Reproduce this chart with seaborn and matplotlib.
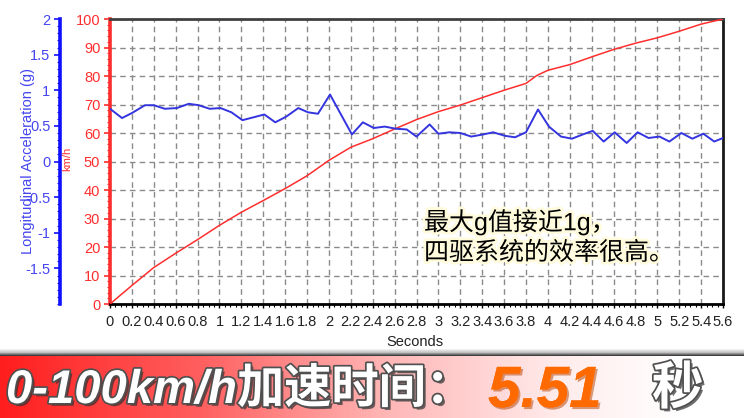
import matplotlib
matplotlib.use("Agg")
import matplotlib.patheffects as pe
import matplotlib.pyplot as plt
import numpy as np
import seaborn as sns
from matplotlib.ticker import FixedLocator, MultipleLocator

# speed trace (km/h)
speed_time = [0, 0.2, 0.4, 0.6, 0.8, 1.0, 1.2, 1.4, 1.6, 1.8, 2.0, 2.2, 2.4, 2.6, 2.8,
              3.0, 3.2, 3.4, 3.6, 3.8, 3.9, 4.0, 4.2, 4.4, 4.6, 4.8, 5.0, 5.2, 5.4, 5.6]
speed_kmh = [0, 6.5, 12.8, 17.8, 22.6, 27.6, 32.2, 36.3, 40.5, 45.0, 50.4, 55.0, 58.0, 61.4, 64.7,
             67.5, 69.8, 72.4, 75.0, 77.4, 80.2, 82.0, 84.0, 86.7, 89.3, 91.5, 93.4, 95.7, 98.2, 100]

# longitudinal acceleration (g)
accel_time = [0, 0.11, 0.2, 0.32, 0.4, 0.5, 0.61, 0.72, 0.81, 0.91,
              1.01, 1.11, 1.21, 1.31, 1.41, 1.51, 1.61, 1.72, 1.81, 1.9,
              2.01, 2.21, 2.31, 2.41, 2.51, 2.61, 2.71, 2.8, 2.92, 3.0,
              3.1, 3.2, 3.3, 3.41, 3.5, 3.61, 3.7, 3.8, 3.91, 4.01,
              4.12, 4.22, 4.32, 4.41, 4.51, 4.61, 4.72, 4.82, 4.92, 5.02,
              5.11, 5.22, 5.32, 5.42, 5.52, 5.6]
accel_g = [0.74, 0.61, 0.68, 0.79, 0.79, 0.74, 0.75, 0.81, 0.79, 0.74,
           0.75, 0.69, 0.58, 0.62, 0.66, 0.55, 0.63, 0.75, 0.69, 0.67,
           0.94, 0.38, 0.55, 0.47, 0.49, 0.46, 0.45, 0.35, 0.52, 0.39,
           0.41, 0.40, 0.35, 0.38, 0.41, 0.36, 0.34, 0.41, 0.73, 0.49,
           0.35, 0.32, 0.38, 0.43, 0.28, 0.41, 0.26, 0.41, 0.33, 0.35,
           0.28, 0.40, 0.32, 0.39, 0.28, 0.33]

x_tick_values = [0, 0.2, 0.4, 0.6, 0.8, 1, 1.2, 1.4, 1.6, 1.8, 2, 2.2, 2.4, 2.6, 2.8,
                 3, 3.2, 3.4, 3.6, 3.8, 4, 4.2, 4.4, 4.6, 4.8, 5, 5.2, 5.4, 5.6]
x_tick_labels = ["0", "0.2", "0.4", "0.6", "0.8", "1", "1.2", "1.4", "1.6", "1.8",
                 "2", "2.2", "2.4", "2.6", "2.8", "3", "3.2", "3.4", "3.6", "3.8",
                 "4", "4.2", "4.4", "4.6", "4.8", "5", "5.2", "5.4", "5.6"]
kmh_tick_values = [0, 10, 20, 30, 40, 50, 60, 70, 80, 90, 100]
g_tick_values = [-1.5, -1, -0.5, 0, 0.5, 1, 1.5, 2]
g_tick_labels = ["-1.5", "-1", "-0.5", "0", "0.5", "1", "1.5", "2"]

RED = "#ff2e2e"
BLUE = "#3434e0"
W, H = 744, 418

sns.set_theme(style="white")
plt.rcParams["font.family"] = ["Liberation Sans", "Noto Sans CJK SC", "DejaVu Sans"]

fig = plt.figure(figsize=(W / 100, H / 100), dpi=100)
fig.patch.set_facecolor("white")

# plot box: x 110..723, y 19..304 (pixels)
ax = fig.add_axes([110 / W, 1 - 304 / H, 613 / W, 285 / H])
ax.set_facecolor("white")
sns.lineplot(x=speed_time, y=speed_kmh, ax=ax, color=RED, linewidth=1.1, zorder=3)
ax.set_xlim(0, 5.6)
ax.set_ylim(0, 100)
ax.xaxis.set_major_locator(FixedLocator(x_tick_values))
ax.set_xticklabels(x_tick_labels)
ax.xaxis.set_minor_locator(MultipleLocator(0.05))
ax.yaxis.set_major_locator(FixedLocator(kmh_tick_values))
ax.yaxis.set_minor_locator(MultipleLocator(2))
ax.grid(True, which="major", color="#8a8a8a", linestyle=(0, (4, 3)), linewidth=1)
ax.set_axisbelow(True)
ax.set_xlabel("")
ax.set_ylabel("")
ax.tick_params(axis="x", which="major", length=3, width=1, color="black", pad=5,
               labelsize=10.5, labelcolor="#222222", bottom=True)
ax.tick_params(axis="x", which="minor", length=2, width=0.8, color="black", bottom=True)
ax.tick_params(axis="y", which="major", length=4, width=1.2, color=RED, pad=3,
               labelsize=10.5, labelcolor=RED, left=True)
ax.tick_params(axis="y", which="minor", length=2, width=0.8, color=RED, left=True)
for side, col, lw in [("left", RED, 2.6), ("bottom", "black", 2), ("top", "#404040", 2),
                      ("right", "#1a1a1a", 2)]:
    ax.spines[side].set_visible(True)
    ax.spines[side].set_color(col)
    ax.spines[side].set_linewidth(lw)

# acceleration axis, spine pushed out to x = 60 px
ax_g = ax.twinx()
sns.lineplot(x=accel_time, y=accel_g, ax=ax_g, color=BLUE, linewidth=1.4, zorder=4)
ax_g.set_ylim(-2, 2)
ax_g.set_ylabel("")
ax_g.yaxis.set_ticks_position("left")
ax_g.spines["left"].set_position(("axes", -50 / 613))
for side in ["right", "top", "bottom"]:
    ax_g.spines[side].set_visible(False)
ax_g.spines["left"].set_visible(True)
ax_g.spines["left"].set_color("#1010ff")
ax_g.spines["left"].set_linewidth(2.6)
ax_g.yaxis.set_major_locator(FixedLocator(g_tick_values))
ax_g.set_yticklabels(g_tick_labels)
ax_g.yaxis.set_minor_locator(MultipleLocator(0.1))
ax_g.tick_params(axis="y", which="major", length=4, width=1.2, color="#1010ff", pad=3,
                 labelsize=10.5, labelcolor="#4545f0")
ax_g.tick_params(axis="y", which="minor", length=2, width=0.8, color="#1010ff")

fig.text(28 / W, 1 - 161 / H, "Longitudinal Acceleration (g)", rotation=90,
         ha="center", va="center", fontsize=10.5, color="#4545f0")
fig.text(67 / W, 1 - 159 / H, "km/h", rotation=90, ha="center", va="center",
         fontsize=8, color=RED)
fig.text(415 / W, 1 - 342 / H, "Seconds", ha="center", va="center",
         fontsize=10.5, color="#222222")

glow = [pe.withStroke(linewidth=4, foreground="#fffbdc")]
fig.text(424 / W, 1 - 222 / H, "最大g值接近1g，", ha="left", va="center",
         fontsize=18, color="black", path_effects=glow)
fig.text(424 / W, 1 - 253 / H, "四驱系统的效率很高。", ha="left", va="center",
         fontsize=18, color="black", path_effects=glow)

# banner with gray shadow strip on top and red-to-white gradient
bx = fig.add_axes([0, 0, 1, 70 / H])
bx.set_axis_off()
cols = np.arange(W)
stops_x = [0, 200, 380, 560, 680, W]
stops_g = [30, 95, 180, 236, 255, 255]
gb = np.interp(cols, stops_x, stops_g) / 255.0
img = np.ones((70, W, 3))
img[8:, :, 1] = gb
img[8:, :, 2] = gb
shade = np.interp(np.arange(8), [0, 4, 7], [1.0, 0.75, 0.25])
img[:8, :, :] = shade[:, None, None]
bx.imshow(img, aspect="auto", extent=[0, W, 0, 70], interpolation="bilinear")
bx.set_xlim(0, W)
bx.set_ylim(0, 70)

outline = [pe.withSimplePatchShadow(offset=(2, -2), shadow_rgbFace="#303030", alpha=0.7),
           pe.Stroke(linewidth=2.5, foreground="#505050"), pe.Normal()]
fig.text(6 / W, 1 - 403 / H, "0-100km/h加速时间：", ha="left", va="baseline",
         fontsize=34, fontweight="bold", fontstyle="italic", color="white",
         path_effects=outline)
fig.text(488 / W, 1 - 407 / H, "5.51", ha="left", va="baseline",
         fontsize=42, fontweight="bold", fontstyle="italic", color="#ff6a00",
         path_effects=[pe.withSimplePatchShadow(offset=(1.5, -1.5), shadow_rgbFace="#b04000",
                                                alpha=0.5), pe.Normal()])
fig.text(652 / W, 1 - 404 / H, "秒", ha="left", va="baseline",
         fontsize=37, fontweight="bold", color="white", path_effects=outline)

fig.savefig("out.png", dpi=100)
